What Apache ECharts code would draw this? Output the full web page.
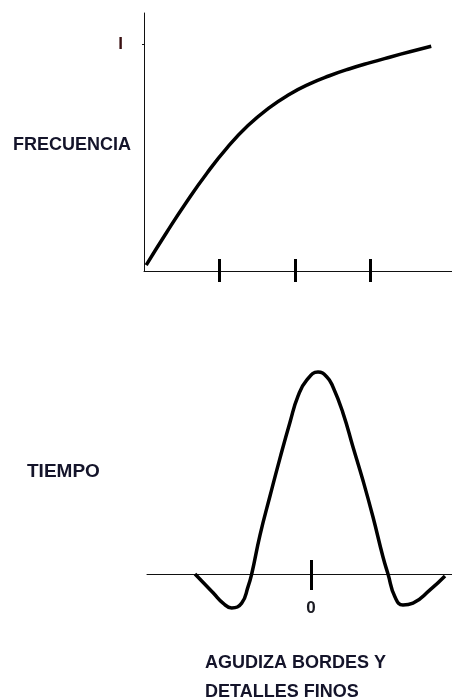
<!DOCTYPE html>
<html>
<head>
<meta charset="utf-8">
<script src="https://cdn.jsdelivr.net/npm/echarts@6/dist/echarts.min.js"></script>
<style>
    * { margin: 0; padding: 0; }
    body { background: #fff; }
    #main { width: 452px; height: 698px; }
</style>
</head>
<body>
<div id="main"></div>
<script>
    // curva de frecuencia (arriba)
    var freqX = [0.029, 0.299, 0.568, 0.838, 1.108, 1.377, 1.647, 1.917, 2.186, 2.456, 2.725, 2.995, 3.265, 3.534, 3.804];
    var freqY = [0.026, 0.170, 0.307, 0.434, 0.547, 0.642, 0.718, 0.778, 0.825, 0.862, 0.893, 0.920, 0.945, 0.969, 0.992];
    var freqTicks = [1, 2, 3];

    // respuesta en el tiempo (abajo)
    var timeX = [-2.32, -1.954, -1.76, -1.586, -1.386, -1.26, -1.186, -1.02, -0.82, -0.62, -0.42, -0.26, -0.086, 0.14, 0.314,
                 0.44, 0.64, 0.84, 1.04, 1.24, 1.44, 1.54, 1.68, 1.84, 2.04, 2.38, 2.68];
    var timeY = [0, -0.094, -0.144, -0.168, -0.144, -0.064, 0, 0.193, 0.386, 0.574, 0.752, 0.881, 0.960, 1.0, 0.977,
                 0.926, 0.797, 0.629, 0.463, 0.282, 0.084, 0, -0.114, -0.153, -0.144, -0.079, -0.01];
    var timeTicks = [0];

    var yLabel = 'I';
    var textColor = '#14142a';
    var fontFam = 'Liberation Sans';

    function pairs(xs, ys) {
        return xs.map(function (x, i) { return [x, ys[i]]; });
    }

    var chart = echarts.init(document.getElementById('main'));

    var tickStyle = { color: '#000', width: 3 };

    var option = {
        animation: false,
        grid: [
            { left: 144, top: 13, width: 308, height: 258 },
            { left: 147, top: 362, width: 305, height: 212 }
        ],
        xAxis: [
            {
                gridIndex: 0, type: 'value', min: 0, max: 4.079, position: 'bottom',
                axisLine: { lineStyle: { color: '#111', width: 1 } },
                axisTick: { customValues: freqTicks, inside: true, length: 12, lineStyle: tickStyle },
                axisLabel: { show: false }, splitLine: { show: false }
            },
            {
                gridIndex: 0, type: 'value', min: 0, max: 4.079, position: 'bottom',
                axisLine: { show: false },
                axisTick: { customValues: freqTicks, inside: false, length: 11, lineStyle: tickStyle },
                axisLabel: { show: false }, splitLine: { show: false }
            },
            {
                gridIndex: 1, type: 'value', min: -3.28, max: 2.82, position: 'bottom',
                axisLine: { lineStyle: { color: '#111', width: 1 } },
                axisTick: { customValues: timeTicks, inside: true, length: 14, lineStyle: tickStyle },
                axisLabel: {
                    customValues: timeTicks, margin: 26,
                    color: '#1a1a22', fontFamily: fontFam, fontWeight: 'bold', fontSize: 17
                },
                splitLine: { show: false }
            },
            {
                gridIndex: 1, type: 'value', min: -3.28, max: 2.82, position: 'bottom',
                axisLine: { show: false },
                axisTick: { customValues: timeTicks, inside: false, length: 16, lineStyle: tickStyle },
                axisLabel: { show: false }, splitLine: { show: false }
            }
        ],
        yAxis: [
            {
                gridIndex: 0, type: 'value', min: 0, max: 1.139,
                axisLine: { show: true, lineStyle: { color: '#111', width: 1 } },
                axisTick: { customValues: [1], length: 2, lineStyle: { color: '#111' } },
                axisLabel: {
                    customValues: [1], margin: 21,
                    formatter: function () { return yLabel; },
                    color: '#3a1012', fontFamily: fontFam, fontWeight: 'bold', fontSize: 17
                },
                splitLine: { show: false }
            },
            {
                gridIndex: 1, type: 'value', min: 0, max: 1.05, show: false,
                splitLine: { show: false }
            }
        ],
        series: [
            {
                type: 'line', xAxisIndex: 0, yAxisIndex: 0,
                data: pairs(freqX, freqY), smooth: 0.5, symbol: 'none',
                lineStyle: { color: '#000', width: 3.5 }
            },
            {
                type: 'line', xAxisIndex: 2, yAxisIndex: 1, clip: false,
                data: pairs(timeX, timeY), smooth: 0.5, symbol: 'none',
                lineStyle: { color: '#000', width: 3.5 }
            }
        ],
        graphic: [
            { type: 'text', left: 13, top: 136, style: { text: 'FRECUENCIA', fill: textColor, font: 'bold 18px "Liberation Sans"' } },
            { type: 'text', left: 27, top: 462, style: { text: 'TIEMPO', fill: textColor, font: 'bold 19px "Liberation Sans"' } },
            { type: 'text', left: 205, top: 649, style: { text: 'AGUDIZA BORDES Y\nDETALLES FINOS', fill: textColor, font: 'bold 18px "Liberation Sans"', lineHeight: 29 } }
        ]
    };

    chart.setOption(option);
</script>
</body>
</html>
